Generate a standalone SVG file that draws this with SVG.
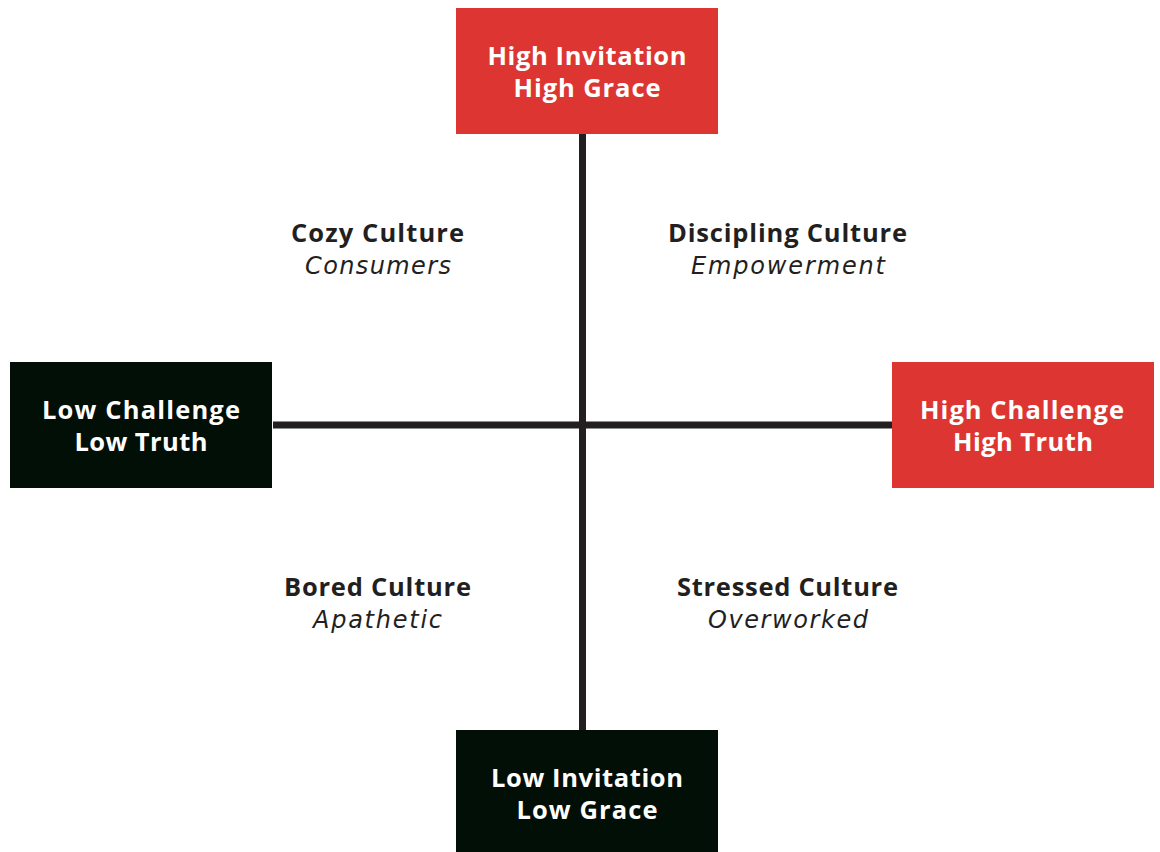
<svg xmlns="http://www.w3.org/2000/svg" width="1160" height="852" viewBox="0 0 1160 852">
<style>
.red{fill:#DD3632}
.dark{fill:#020F06}
.bt{font-family:"Open Sans","Liberation Sans",sans-serif;font-weight:700;font-size:25.5px;fill:#FFFFFF;text-anchor:middle}
.lt{font-family:"Open Sans","Liberation Sans",sans-serif;font-weight:700;font-size:25.5px;fill:#231F20;text-anchor:middle}
.li{font-family:"DejaVu Sans","Open Sans",sans-serif;font-style:italic;font-size:24px;fill:#231F20;text-anchor:middle}
.ax{stroke:#231F20;stroke-width:7;fill:none}
</style>
<rect width="1160" height="852" fill="#FFFFFF"/>
<g id="connectors">
<line class="ax" x1="582.5" y1="133" x2="582.5" y2="731"/>
<line class="ax" x1="273" y1="425" x2="893" y2="425"/>
</g>
<g id="top">
<rect class="red" x="456" y="8" width="262" height="126"/>
<text class="bt" x="587" y="65" textLength="199">High Invitation</text>
<text class="bt" x="587" y="97" textLength="147">High Grace</text>
</g>
<g id="left">
<rect class="dark" x="10" y="362" width="262" height="126"/>
<text class="bt" x="141" y="419" textLength="198">Low Challenge</text>
<text class="bt" x="141" y="451" textLength="133">Low Truth</text>
</g>
<g id="right">
<rect class="red" x="892" y="362" width="262" height="126"/>
<text class="bt" x="1022" y="419" textLength="204">High Challenge</text>
<text class="bt" x="1023" y="451" textLength="140">High Truth</text>
</g>
<g id="bottom">
<rect class="dark" x="456" y="730" width="262" height="122"/>
<text class="bt" x="587" y="787" textLength="192">Low Invitation</text>
<text class="bt" x="587" y="819" textLength="141">Low Grace</text>
</g>
<g id="cozy">
<text class="lt" x="377.5" y="242" textLength="173">Cozy Culture</text>
<text class="li" x="378" y="274" textLength="146">Consumers</text>
</g>
<g id="discipling">
<text class="lt" x="787.5" y="242" textLength="239">Discipling Culture</text>
<text class="li" x="788" y="274" textLength="194">Empowerment</text>
</g>
<g id="bored">
<text class="lt" x="377.5" y="596" textLength="187">Bored Culture</text>
<text class="li" x="377.5" y="628" textLength="129">Apathetic</text>
</g>
<g id="stressed">
<text class="lt" x="787.5" y="596" textLength="221">Stressed Culture</text>
<text class="li" x="788" y="628" textLength="160">Overworked</text>
</g>
</svg>
